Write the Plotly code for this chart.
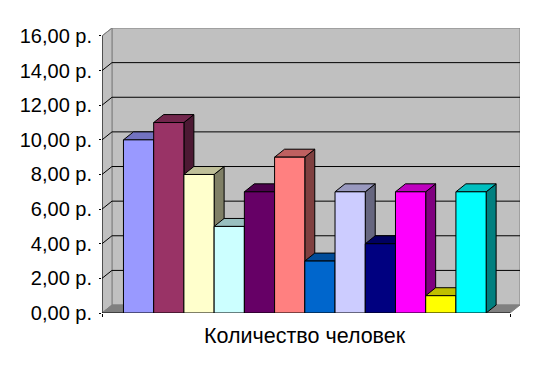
import plotly.graph_objects as go

# Data
category_label = "Количество человек"
values = [10, 11, 8, 5, 7, 9, 3, 7, 4, 7, 1, 7]
bar_colors = ["#9999FF", "#993366", "#FFFFCC", "#CCFFFF", "#660066", "#FF8080",
              "#0066CC", "#CCCCFF", "#000080", "#FF00FF", "#FFFF00", "#00FFFF"]
y_ticks = [0, 2, 4, 6, 8, 10, 12, 14, 16]
y_labels = ["0,00 р.", "2,00 р.", "4,00 р.", "6,00 р.", "8,00 р.",
            "10,00 р.", "12,00 р.", "14,00 р.", "16,00 р."]

# 3-D look, in axis units
DX, DY = 0.33, 0.46
HALF = 0.5
LEFT, RIGHT = -1.21, 12.29
YMAX = 16


def shade(hex_color, k):
    r, g, b = (int(hex_color[i:i + 2], 16) for i in (1, 3, 5))
    return f"rgb({int(r * k)},{int(g * k)},{int(b * k)})"


fig = go.Figure()


def poly(xs, ys, fill, line, z, width=1):
    fig.add_trace(go.Scatter(
        x=xs + xs[:1], y=ys + ys[:1], mode="lines", fill="toself", fillcolor=fill,
        line=dict(color=line, width=width), hoverinfo="skip", showlegend=False,
        zorder=z))


def seg(xs, ys, color, z, width=1):
    fig.add_trace(go.Scatter(
        x=xs, y=ys, mode="lines", line=dict(color=color, width=width),
        hoverinfo="skip", showlegend=False, zorder=z))


# walls and floor
poly([LEFT + DX, RIGHT + DX, RIGHT + DX, LEFT + DX], [DY, DY, YMAX + DY, YMAX + DY],
     "#C0C0C0", "#808080", 0)
poly([LEFT, LEFT + DX, LEFT + DX, LEFT], [0, DY, YMAX + DY, YMAX],
     "#C0C0C0", "#808080", 0)
poly([LEFT, RIGHT, RIGHT + DX, LEFT + DX], [0, 0, DY, DY], "#808080", "#808080", 0)

# gridlines on the walls
for t in y_ticks[1:-1]:
    seg([LEFT, LEFT + DX, RIGHT + DX], [t, t + DY, t + DY], "#000000", 1)

# axes
seg([LEFT, LEFT], [0, YMAX], "#000000", 1)
seg([LEFT, RIGHT], [0, 0], "#000000", 1)
seg([LEFT + DX, LEFT], [YMAX + DY, YMAX], "#808080", 1)

# bars, painted left to right
for i, (v, c) in enumerate(zip(values, bar_colors)):
    z = 2 + i * 3
    l, r = i - HALF, i + HALF
    poly([r, r + DX, r + DX, r], [0, DY, v + DY, v], shade(c, 0.5), "#000000", z)
    poly([l, r, r + DX, l + DX], [v, v, v + DY, v + DY], shade(c, 0.75), "#000000", z + 1)
    fig.add_trace(go.Bar(
        x=[i], y=[v], width=1, marker=dict(color=c, line=dict(color="#000000", width=1)),
        name=str(v), showlegend=False, hoverinfo="skip", zorder=z + 2))

fig.update_layout(
    width=536, height=372, autosize=False, barmode="overlay",
    margin=dict(l=92, r=24, t=20, b=67),
    paper_bgcolor="#FFFFFF", plot_bgcolor="#FFFFFF", showlegend=False,
    font=dict(family="Liberation Sans", size=16, color="#000000"),
    xaxis=dict(range=[LEFT, RIGHT + DX], showgrid=False, zeroline=False, showline=False,
               tickmode="array", tickvals=[LEFT, RIGHT], ticktext=["", ""],
               ticks="outside", ticklen=3, tickcolor="#000000", tickwidth=1),
    yaxis=dict(range=[0, YMAX + DY], showgrid=False, zeroline=False, showline=False,
               tickmode="array", tickvals=y_ticks, ticktext=y_labels,
               ticks="outside", ticklen=2, tickcolor="#000000", tickwidth=1,
               ticklabelstandoff=3,
               tickfont=dict(family="Liberation Sans", size=20, color="#000000")),
    annotations=[dict(text=category_label, x=(LEFT + RIGHT) / 2, y=0, xref="x", yref="y",
                      yshift=-23, xshift=-1, showarrow=False, xanchor="center", yanchor="middle",
                      font=dict(family="Liberation Sans", size=21.5, color="#000000"))],
)

fig.write_html("out.html")
